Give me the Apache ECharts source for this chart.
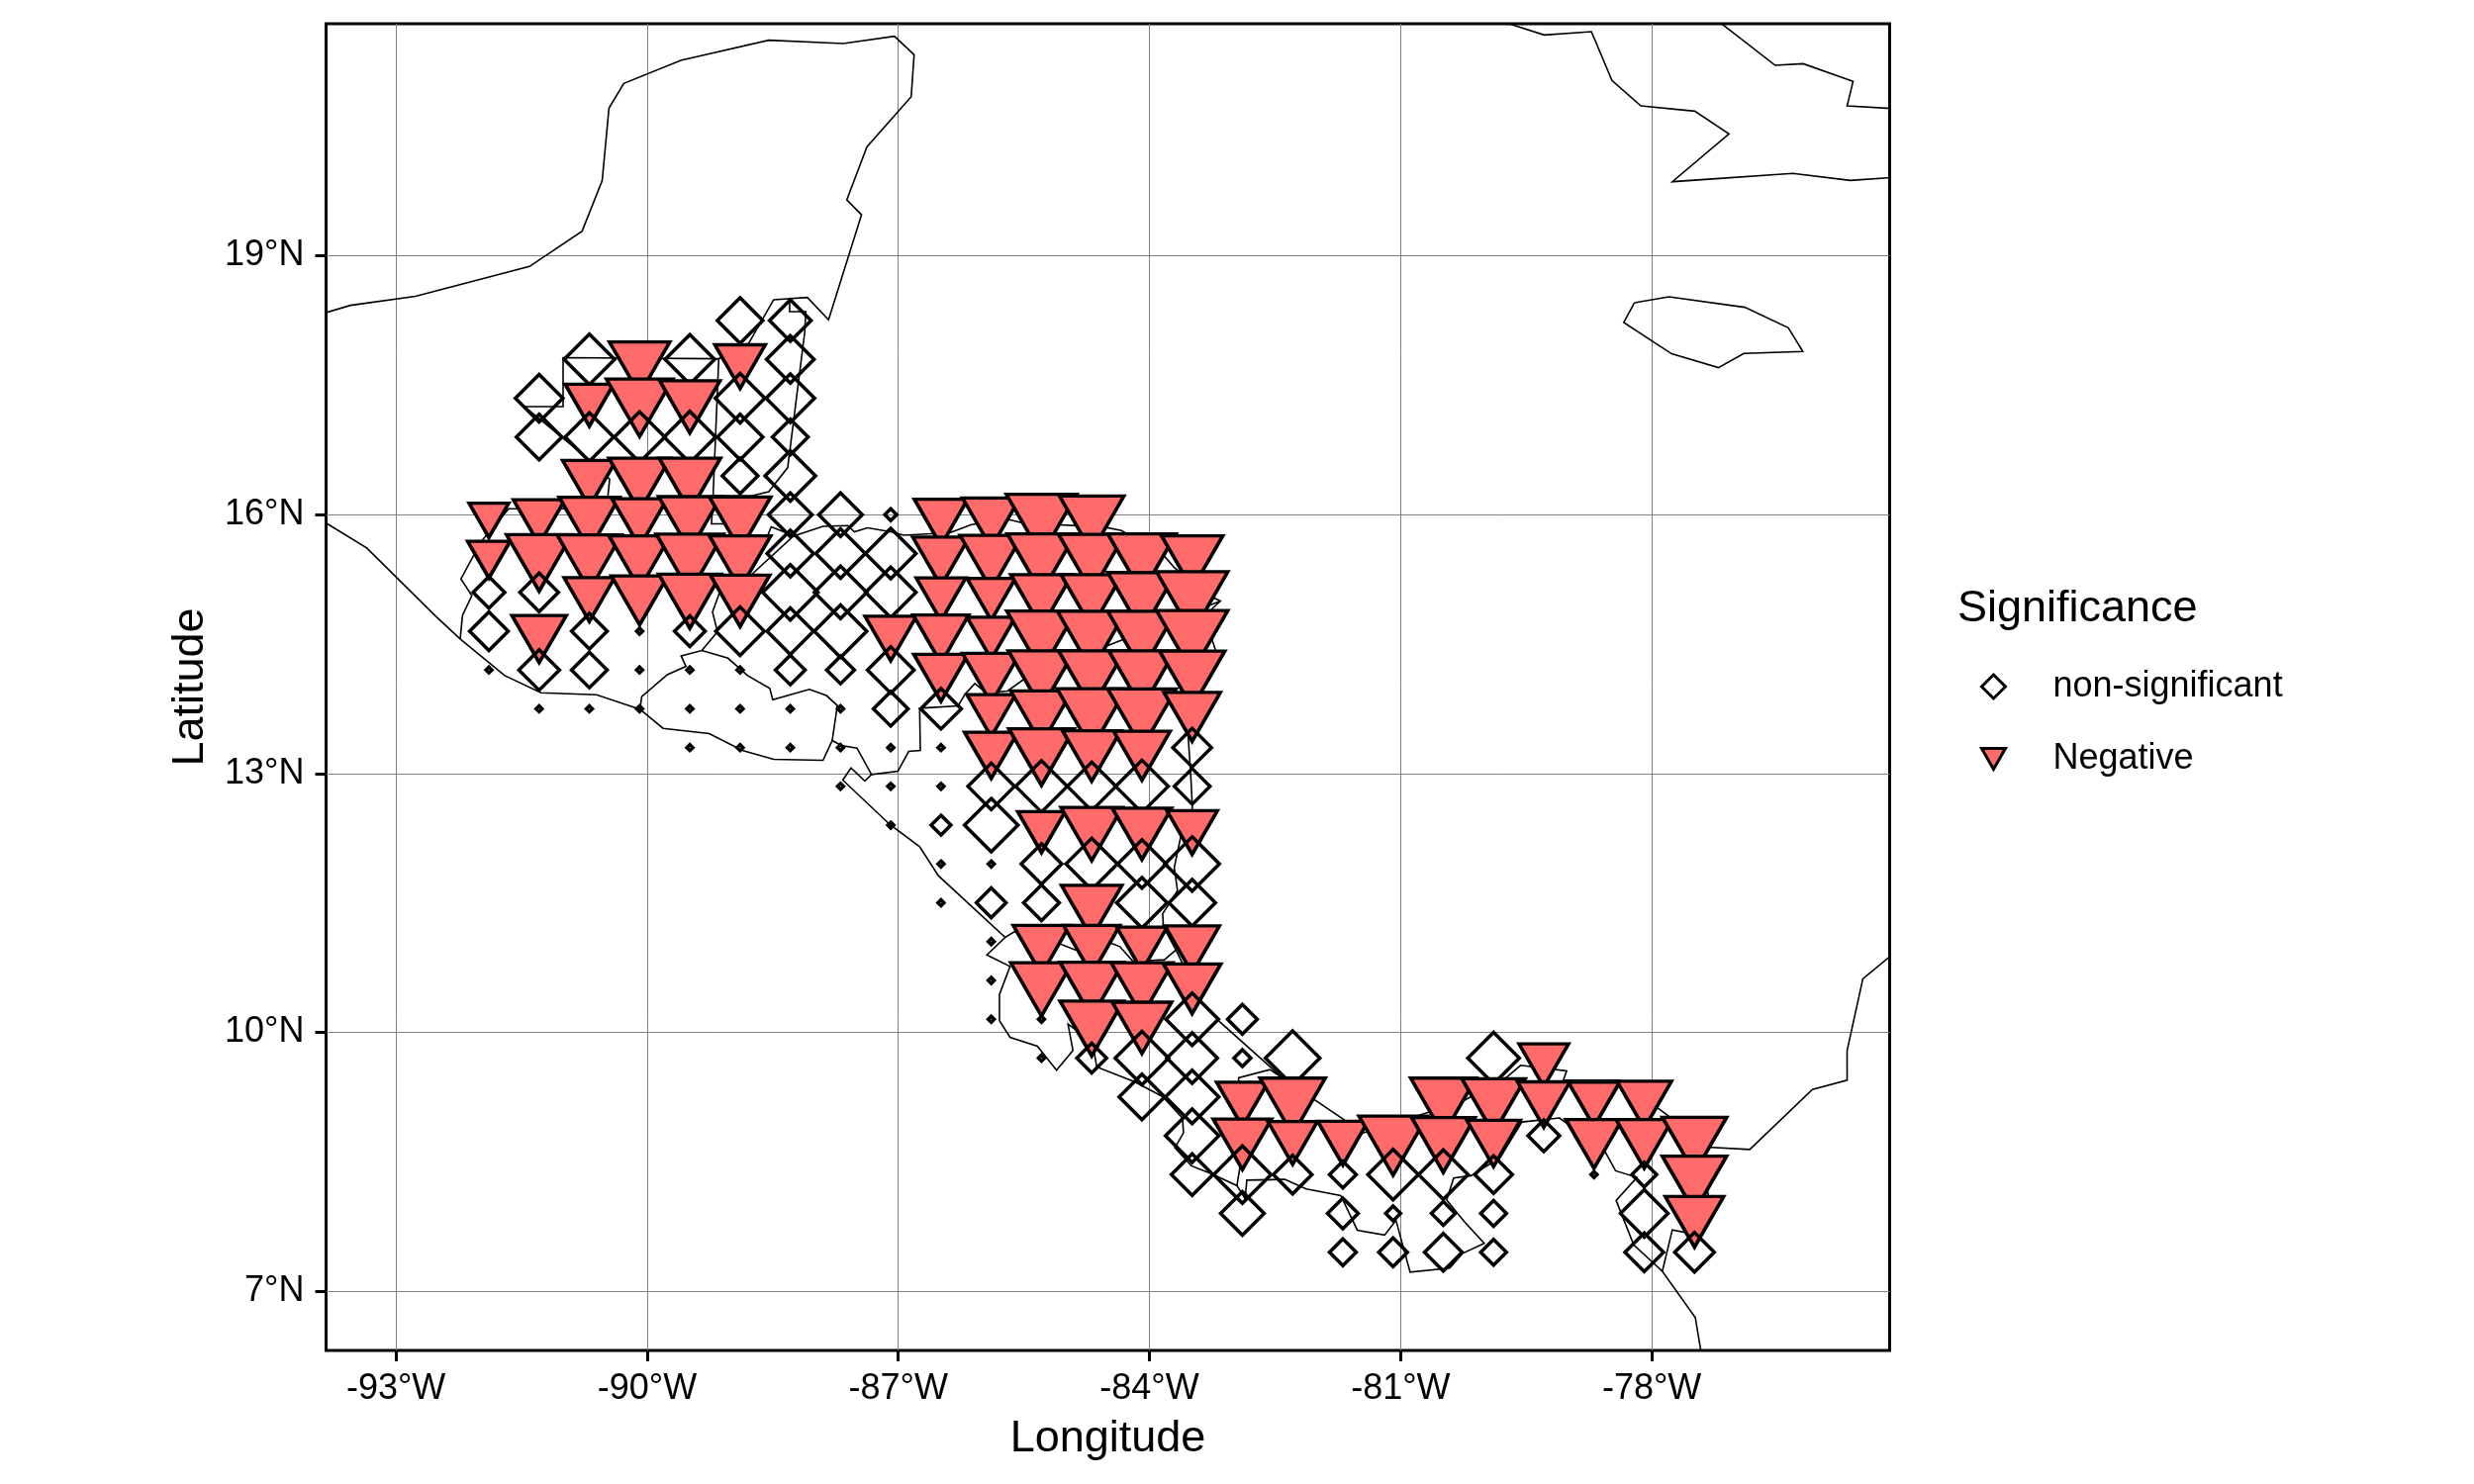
<!DOCTYPE html>
<html>
<head>
<meta charset="utf-8">
<style>html,body{margin:0;padding:0;background:#fff}#chart{width:2500px;height:1500px}</style>
<script src="https://cdn.jsdelivr.net/npm/echarts@6/dist/echarts.min.js"></script>
</head>
<body>
<div id="chart"></div>
<script>
const lonTicks = [-93, -90, -87, -84, -81, -78];
const latTicks = [7, 10, 13, 16, 19];
const lonRange = [-93.835, -75.159];
const latRange = [6.312, 21.69];

// [longitude, latitude, magnitude]
const nonSignificant = [
  [-88.89,18.25,4.7],[-88.29,18.25,4.3],
  [-90.69,17.8,5.2],[-89.49,17.8,5.1],[-88.29,17.8,4.9],
  [-91.29,17.35,4.9],[-88.89,17.35,5.1],[-88.29,17.35,5.0],
  [-91.29,16.9,4.7],[-90.69,16.9,5.0],[-90.09,16.9,5.2],[-89.49,16.9,5.3],[-88.89,16.9,4.7],[-88.29,16.9,3.7],
  [-88.89,16.45,3.7],[-88.29,16.45,5.2],
  [-88.29,16,4.5],[-87.69,16,4.5],[-87.09,16,1.3],
  [-88.29,15.55,4.8],[-87.69,15.55,5.1],[-87.09,15.55,5.2],
  [-91.89,15.1,3.3],[-91.29,15.1,4.0],[-88.29,15.1,5.7],[-87.69,15.1,5.4],[-87.09,15.1,5.2],
  [-91.89,14.65,4.0],[-90.69,14.65,3.7],[-90.09,14.65,0.7],[-89.49,14.65,3.2],[-88.89,14.65,5.0],[-88.29,14.65,4.8],[-87.69,14.65,5.4],
  [-91.89,14.2,0.7],[-91.29,14.2,4.2],[-90.69,14.2,3.7],[-90.09,14.2,0.7],[-89.49,14.2,0.7],[-88.89,14.2,0.7],[-88.29,14.2,3.1],[-87.69,14.2,2.9],[-87.09,14.2,4.8],
  [-91.29,13.75,0.7],[-90.69,13.75,0.7],[-90.09,13.75,0.7],[-89.49,13.75,0.7],[-88.89,13.75,0.7],[-88.29,13.75,0.7],[-87.69,13.75,0.7],[-87.09,13.75,3.6],[-86.49,13.75,4.2],
  [-89.49,13.3,0.7],[-88.89,13.3,0.7],[-88.29,13.3,0.7],[-87.69,13.3,0.7],[-87.09,13.3,0.7],[-86.49,13.3,0.7],[-83.49,13.3,4.0],
  [-87.69,12.85,0.7],[-87.09,12.85,0.7],[-86.49,12.85,0.7],[-85.89,12.85,4.8],[-85.29,12.85,5.3],[-84.69,12.85,5.0],[-84.09,12.85,5.4],[-83.49,12.85,3.7],
  [-87.09,12.4,0.7],[-86.49,12.4,2.1],[-85.89,12.4,5.5],
  [-86.49,11.95,0.7],[-85.89,11.95,0.7],[-85.29,11.95,4.2],[-84.69,11.95,5.3],[-84.09,11.95,5.0],[-83.49,11.95,5.6],
  [-86.49,11.5,0.7],[-85.89,11.5,3.1],[-85.29,11.5,3.7],[-84.09,11.5,5.2],[-83.49,11.5,4.8],
  [-85.89,11.05,0.7],
  [-85.89,10.6,0.7],
  [-85.89,10.15,0.7],[-85.29,10.15,0.7],[-83.49,10.15,5.4],[-82.89,10.15,3.1],
  [-85.29,9.7,0.7],[-84.69,9.7,3.1],[-84.09,9.7,5.5],[-83.49,9.7,5.2],[-82.89,9.7,1.8],[-82.29,9.7,5.6],[-79.89,9.7,5.3],
  [-84.09,9.25,4.7],[-83.49,9.25,5.5],
  [-83.49,8.8,5.5],[-79.29,8.8,3.3],
  [-83.49,8.35,4.3],[-82.89,8.35,5.9],[-82.29,8.35,4.0],[-81.69,8.35,2.8],[-81.09,8.35,5.2],[-80.49,8.35,5.1],[-79.89,8.35,3.9],[-78.69,8.35,0.7],[-78.09,8.35,2.6],
  [-82.89,7.9,4.5],[-81.69,7.9,3.2],[-81.09,7.9,1.6],[-80.49,7.9,2.5],[-79.89,7.9,2.7],[-78.09,7.9,4.9],
  [-81.69,7.45,2.8],[-81.09,7.45,3.0],[-80.49,7.45,3.9],[-79.89,7.45,2.7],[-78.09,7.45,4.0],[-77.49,7.45,4.1]
];
const negative = [
  [-90.09,17.8,6.2],[-88.89,17.8,5.2],
  [-90.69,17.35,5.0],[-90.09,17.35,6.8],[-89.49,17.35,6.2],
  [-90.69,16.45,5.5],[-90.09,16.45,6.3],[-89.49,16.45,6.3],
  [-91.89,16,4.1],[-91.29,16,5.3],[-90.69,16,6.2],[-90.09,16,5.7],[-89.49,16,6.4],[-88.89,16,6.3],[-86.49,16,5.5],[-85.89,16,5.9],[-85.29,16,7.2],[-84.69,16,6.6],
  [-91.89,15.55,4.4],[-91.29,15.55,6.7],[-90.69,15.55,6.6],[-90.09,15.55,6.3],[-89.49,15.55,6.9],[-88.89,15.55,6.3],[-86.49,15.55,5.8],[-85.89,15.55,6.4],[-85.29,15.55,7.0],[-84.69,15.55,6.8],[-84.09,15.55,7.0],[-83.49,15.55,6.3],
  [-90.69,15.1,5.2],[-90.09,15.1,5.8],[-89.49,15.1,6.4],[-88.89,15.1,6.1],[-86.49,15.1,5.1],[-85.89,15.1,5.0],[-85.29,15.1,6.3],[-84.69,15.1,6.3],[-84.09,15.1,7.0],[-83.49,15.1,7.3],
  [-91.29,14.65,5.6],[-87.09,14.65,5.3],[-86.49,14.65,5.7],[-85.89,14.65,5.0],[-85.29,14.65,7.1],[-84.69,14.65,7.0],[-84.09,14.65,7.0],[-83.49,14.65,7.3],
  [-86.49,14.2,5.6],[-85.89,14.2,5.9],[-85.29,14.2,6.8],[-84.69,14.2,6.8],[-84.09,14.2,6.8],[-83.49,14.2,6.7],
  [-85.89,13.75,5.0],[-85.29,13.75,6.3],[-84.69,13.75,7.1],[-84.09,13.75,7.0],[-83.49,13.75,5.8],
  [-85.89,13.3,5.5],[-85.29,13.3,6.7],[-84.69,13.3,6.0],[-84.09,13.3,5.8],
  [-85.29,12.4,4.9],[-84.69,12.4,6.3],[-84.09,12.4,6.1],[-83.49,12.4,5.2],
  [-84.69,11.5,6.2],
  [-85.29,11.05,5.8],[-84.69,11.05,5.8],[-84.09,11.05,5.2],[-83.49,11.05,5.6],
  [-85.29,10.6,6.3],[-84.69,10.6,6.5],[-84.09,10.6,6.3],[-83.49,10.6,5.9],
  [-84.69,10.15,6.5],[-84.09,10.15,6.1],
  [-79.29,9.7,5.1],
  [-82.89,9.25,5.3],[-82.29,9.25,6.7],[-80.49,9.25,6.7],[-79.89,9.25,6.5],[-79.29,9.25,5.4],[-78.69,9.25,5.3],[-78.09,9.25,5.6],
  [-82.89,8.8,6.0],[-82.29,8.8,5.1],[-81.69,8.8,5.2],[-81.09,8.8,7.0],[-80.49,8.8,6.5],[-79.89,8.8,5.5],[-78.69,8.8,5.8],[-78.09,8.8,5.8],[-77.49,8.8,6.6],
  [-77.49,8.35,6.6],
  [-77.49,7.9,6.0]
];

// map outlines, [longitude, latitude]
const gulfAndGuatemalaNorth = [[-93.887,18.327],[-93.544,18.426],[-92.767,18.530],[-91.405,18.877],[-90.777,19.286],[-90.537,19.871],[-90.456,20.711],[-90.279,20.998],[-89.597,21.265],[-88.548,21.499],[-87.657,21.460],[-87.046,21.545],[-86.811,21.330],[-86.846,20.845],[-87.375,20.264],[-87.615,19.649],[-87.439,19.476],[-87.833,18.258],[-88.086,18.518],[-88.489,18.491],[-88.786,17.986],[-89.145,17.807],[-91.004,17.819],[-91.004,17.252],[-91.464,17.252],[-90.696,16.641],[-90.448,16.412],[-90.484,16.068],[-91.654,16.068],[-91.961,15.713],[-92.064,15.541],[-92.224,15.254],[-92.094,15.062],[-92.205,14.833],[-92.233,14.558]];
const belizeBorderWest = [[-89.145,17.807],[-89.212,16.220],[-89.231,15.893],[-88.923,15.893]];
const belizeCoast = [[-88.298,18.510],[-88.298,18.353],[-88.105,18.353],[-88.118,18.112],[-88.321,16.546],[-88.548,16.266],[-88.742,16.220],[-89.212,16.220]];
const guatemalaHondurasBorder = [[-89.346,14.425],[-89.160,14.643],[-89.219,14.872],[-89.140,15.082],[-88.628,15.598],[-88.518,15.858],[-88.235,15.750]];
const caribbeanCoast = [[-88.746,15.311],[-88.254,15.750],[-87.899,15.865],[-87.604,15.873],[-87.525,15.801],[-87.367,15.847],[-87.092,15.801],[-86.935,15.762],[-86.383,15.789],[-86.126,15.885],[-85.674,15.942],[-85.520,15.904],[-84.531,15.854],[-84.335,15.816],[-83.842,15.541],[-83.704,15.388],[-83.251,15.044],[-83.153,14.998],[-83.251,14.910],[-83.251,14.546],[-83.212,14.432],[-83.538,13.439],[-83.507,12.980],[-83.487,12.598],[-83.629,12.254],[-83.704,11.909],[-83.665,11.642],[-83.842,11.375],[-83.834,11.222],[-83.684,10.955],[-83.389,10.362],[-83.153,10.114],[-82.403,9.464],[-81.443,8.833],[-80.261,9.200],[-79.726,9.484],[-79.567,9.617],[-79.017,9.553],[-79.056,9.445],[-78.386,9.445],[-77.957,9.143],[-77.795,9.025],[-77.342,8.669],[-76.830,8.642],[-76.081,9.338],[-75.667,9.445],[-75.667,9.789],[-75.479,10.619],[-75.132,10.897]];
const pacificCoast = [[-93.946,15.968],[-93.349,15.614],[-92.528,14.826],[-92.233,14.558],[-91.701,14.134],[-91.267,13.935],[-90.605,13.913],[-90.085,13.744],[-89.810,13.523],[-89.258,13.462],[-88.864,13.267],[-88.490,13.164],[-87.899,13.152],[-87.789,13.382],[-87.683,13.324],[-87.494,13.294],[-87.320,12.988],[-87.399,12.912],[-87.565,13.064],[-87.663,12.923],[-87.100,12.407],[-86.745,12.150],[-86.521,11.814],[-85.724,11.100],[-85.942,10.897],[-85.665,10.763],[-85.792,10.439],[-85.792,10.133],[-85.665,9.942],[-85.339,9.839],[-85.110,9.559],[-84.914,9.789],[-84.973,10.095],[-84.866,10.018],[-84.657,9.751],[-84.630,9.598],[-84.176,9.426],[-83.842,9.254],[-83.605,9.005],[-83.594,8.834],[-83.696,8.661],[-83.499,8.452],[-83.251,8.355],[-82.955,8.222],[-82.857,8.069],[-82.837,8.286],[-82.384,8.295],[-82.128,8.183],[-81.715,8.108],[-81.517,7.706],[-81.191,7.649],[-81.056,7.821],[-80.887,7.220],[-80.414,7.266],[-80.258,7.438],[-80.001,7.553],[-80.237,7.802],[-80.450,8.054],[-80.367,8.310],[-80.159,8.337],[-79.812,8.547],[-79.552,8.960],[-79.103,9.006],[-78.563,8.624],[-78.433,8.394],[-78.177,8.318],[-78.426,8.051],[-78.216,7.535],[-77.874,7.229],[-77.480,6.693],[-77.389,6.162]];
const elSalvadorBorder = [[-87.789,13.382],[-87.728,13.787],[-87.858,13.903],[-88.062,13.974],[-88.500,13.854],[-88.535,13.985],[-88.800,14.134],[-89.034,14.336],[-89.346,14.425],[-89.594,14.363],[-89.536,14.241],[-89.759,14.145],[-90.065,13.889],[-90.085,13.744]];
const hondurasNicaraguaBorder = [[-87.320,12.988],[-87.005,13.026],[-86.876,13.255],[-86.737,13.267],[-86.745,13.756],[-86.285,13.783],[-86.205,13.916],[-86.087,14.042],[-85.949,13.935],[-85.694,13.955],[-85.516,14.081],[-84.728,14.394],[-83.153,14.998]];
const nicaraguaCostaRicaBorder = [[-85.724,11.100],[-85.615,11.165],[-85.083,11.031],[-84.886,10.955],[-84.453,11.031],[-84.354,10.993],[-84.196,10.820],[-83.822,10.840],[-83.684,10.955]];
const costaRicaPanamaBorder = [[-82.403,9.464],[-82.562,9.567],[-82.935,9.472],[-82.932,9.005],[-82.920,8.432],[-82.955,8.222]];
const panamaColombiaBorder = [[-77.874,7.229],[-77.755,7.710],[-77.519,7.664],[-77.283,7.897],[-77.342,8.203],[-77.795,9.025]];
const cubaCoast = [[-80.001,21.778],[-79.706,21.689],[-79.284,21.560],[-78.721,21.598],[-78.476,21.032],[-78.130,20.738],[-77.487,20.677],[-77.078,20.413],[-77.755,19.859],[-76.317,19.955],[-75.628,19.874],[-75.096,19.909]];
const cubaNorthCoast = [[-77.283,21.778],[-76.526,21.208],[-76.192,21.227],[-75.596,21.021],[-75.667,20.738],[-75.096,20.706]];
const jamaicaCoast = [[-78.208,18.456],[-77.795,18.525],[-76.889,18.403],[-76.369,18.166],[-76.196,17.891],[-76.901,17.868],[-77.204,17.704],[-77.763,17.865],[-78.335,18.227],[-78.208,18.456]];
const outlines = [gulfAndGuatemalaNorth, belizeBorderWest, belizeCoast, guatemalaHondurasBorder, caribbeanCoast, pacificCoast, elSalvadorBorder, hondurasNicaraguaBorder, nicaraguaCostaRicaBorder, costaRicaPanamaBorder, panamaColombiaBorder, cubaCoast, cubaNorthCoast, jamaicaCoast];

const NS_NAME = 'non-significant';
const NEG_NAME = 'Negative';
const STROKE = 3.5;
const RED = '#FF6B6B';
const TRI_PATH = 'path://M0 0L100 0L50 86.6Z';
const FONT = '"Liberation Sans", Arial, Helvetica, sans-serif';

function diamondSize(v) { return Math.max(v[2] * 10 - 1, 1.5); }
function triangleSize(v) { const w = v[2] * 10 - 1; return [w, w * 0.866]; }

const nsStyle = { color: 'rgba(0,0,0,0)', borderColor: '#000', borderWidth: STROKE, borderJoin: 'miter', borderMiterLimit: 10, opacity: 1 };
const negStyle = { color: RED, borderColor: '#000', borderWidth: STROKE, borderJoin: 'miter', borderMiterLimit: 10, opacity: 1 };

// Points are painted row by row, north to south, west to east.
const ordered = nonSignificant.map(p => ({ p, neg: false })).concat(negative.map(p => ({ p, neg: true })));
ordered.sort((a, b) => (b.p[1] - a.p[1]) || (a.p[0] - b.p[0]));
const runs = [];
ordered.forEach(o => {
  const last = runs[runs.length - 1];
  if (last && last.neg === o.neg) last.data.push(o.p);
  else runs.push({ neg: o.neg, data: [o.p] });
});

const series = outlines.map((line, i) => ({
  type: 'line', name: 'outline' + i, data: line, showSymbol: false, symbol: 'none', silent: true,
  clip: true, smooth: false, lineStyle: { color: '#000', width: 1.6, join: 'miter' }, z: 2
}));
runs.forEach(r => {
  series.push(r.neg ? {
    type: 'scatter', name: NEG_NAME, data: r.data, symbol: TRI_PATH, symbolSize: triangleSize,
    symbolOffset: [0, '16.67%'], itemStyle: negStyle, silent: true, z: 3
  } : {
    type: 'scatter', name: NS_NAME, data: r.data, symbol: 'diamond', symbolSize: diamondSize,
    itemStyle: nsStyle, silent: true, z: 3
  });
});

const axisCommon = {
  type: 'value', scale: true, nameLocation: 'middle',
  nameTextStyle: { fontFamily: FONT, fontSize: 45, color: '#000' },
  axisLine: { show: false },
  splitLine: { show: true, lineStyle: { color: '#808080', width: 1 } },
  minorTick: { show: false }, minorSplitLine: { show: false }
};

const chart = echarts.init(document.getElementById('chart'), null, { renderer: 'canvas', width: 2500, height: 1500 });
chart.setOption({
  animation: false,
  backgroundColor: '#fff',
  title: {
    text: 'Significance', left: 1973, top: 588,
    textStyle: { fontFamily: FONT, fontSize: 45, fontWeight: 'normal', color: '#000' }
  },
  legend: {
    orient: 'vertical', left: 1996, top: 671, itemWidth: 24, itemHeight: 24, itemGap: 37,
    selectedMode: false,
    textStyle: { fontFamily: FONT, fontSize: 36, color: '#000', padding: [0, 0, 0, 43] },
    data: [
      { name: NS_NAME, icon: 'diamond', itemStyle: { color: 'rgba(0,0,0,0)', borderColor: '#000', borderWidth: 3 } },
      { name: NEG_NAME, icon: TRI_PATH, itemStyle: { color: RED, borderColor: '#000', borderWidth: 3 } }
    ]
  },
  grid: {
    left: 329.5, top: 24, width: 1580, height: 1341, containLabel: false,
    show: true, borderColor: '#000', borderWidth: 3, backgroundColor: '#fff'
  },
  xAxis: Object.assign({}, axisCommon, {
    min: lonRange[0], max: lonRange[1], name: 'Longitude', nameGap: 67,
    axisTick: { show: true, length: 11, lineStyle: { color: '#000', width: 3 }, customValues: lonTicks },
    axisLabel: { customValues: lonTicks, fontFamily: FONT, fontSize: 36, color: '#000', margin: 21, formatter: v => v + '°W' }
  }),
  yAxis: Object.assign({}, axisCommon, {
    min: latRange[0], max: latRange[1], name: 'Latitude', nameGap: 114,
    axisTick: { show: true, length: 11, lineStyle: { color: '#000', width: 3 }, customValues: latTicks },
    axisLabel: { customValues: latTicks, fontFamily: FONT, fontSize: 36, color: '#000', margin: 22, padding: [8, 0, 0, 0], formatter: v => v + '°N' }
  }),
  tooltip: { show: false },
  series
});
</script>
</body>
</html>
